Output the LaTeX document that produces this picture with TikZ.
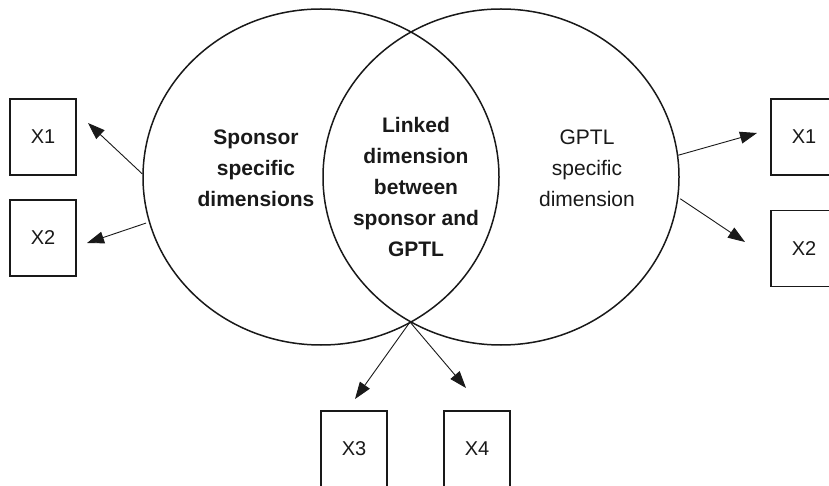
\documentclass[tikz,border=0pt]{standalone}
\usepackage{fontspec}
\setmainfont{Liberation Sans}
\usetikzlibrary{calc, arrows.meta, shapes.geometric}
\colorlet{OutlineColor}{black!90}
\colorlet{TextColor}{black!90}

\begin{document}
\begin{tikzpicture}[x=0.5pt, y=-0.5pt,
    setcircle/.style={draw=OutlineColor, line width=0.75pt, ellipse,
        minimum width=178pt, minimum height=168pt, inner sep=0pt},
    varbox/.style={draw=OutlineColor, line width=0.6pt, minimum width=33pt,
        minimum height=38pt, inner sep=0pt, text=TextColor,
        font=\fontsize{10}{12}\selectfont},
    settext/.style={align=center, text=TextColor,
        font=\fontsize{10.5}{15.5}\selectfont},
    boldtext/.style={settext, font=\fontsize{10.5}{15.5}\selectfont\bfseries},
    arrowline/.style={draw=OutlineColor, line width=0.45pt,
        -{Triangle[length=8.5pt, width=6pt]}}]

    \useasboundingbox (0,0) rectangle (829,486);

    % Conjuntos
    \node[setcircle] (sponsor) at (321,177) {};
    \node[setcircle] (gptl) at (501,177) {};
    \coordinate (low) at (410,322);

    \node[boldtext] (spontext) at (256,168) {Sponsor\\specific\\dimensions};
    \node[boldtext] (linktext) at (416,187) {Linked\\dimension\\between\\sponsor and\\GPTL};
    \node[settext] (gptltext) at (587,168) {GPTL\\specific\\dimension};

    % Variables
    \node[varbox] (leftone) at (43,137) {X1};
    \node[varbox] (lefttwo) at (43,238) {X2};
    \node[varbox] (rightone) at (804,137) {X1};
    \node[varbox] (righttwo) at (804,248.5) {X2};
    \node[varbox] (three) at (354,449) {X3};
    \node[varbox] (four) at (477,449) {X4};

    % Puntas de flecha
    \coordinate (tipleftone) at (88,123);
    \coordinate (tiplefttwo) at (87,243);
    \coordinate (tiprightone) at (757,133);
    \coordinate (tiprighttwo) at (745,242);
    \coordinate (tipthree) at (355,399);
    \coordinate (tipfour) at (466,388);

    \draw[arrowline] (sponsor.179) -- (tipleftone);
    \draw[arrowline] ($(sponsor.195)+(-3,0)$) -- (tiplefttwo);
    \draw[arrowline] (gptl.7) -- (tiprightone);
    \draw[arrowline] ($(gptl.353)+(2,0)$) -- (tiprighttwo);
    \draw[arrowline] (low) -- (tipthree);
    \draw[arrowline] (low) -- (tipfour);
\end{tikzpicture}
\end{document}
